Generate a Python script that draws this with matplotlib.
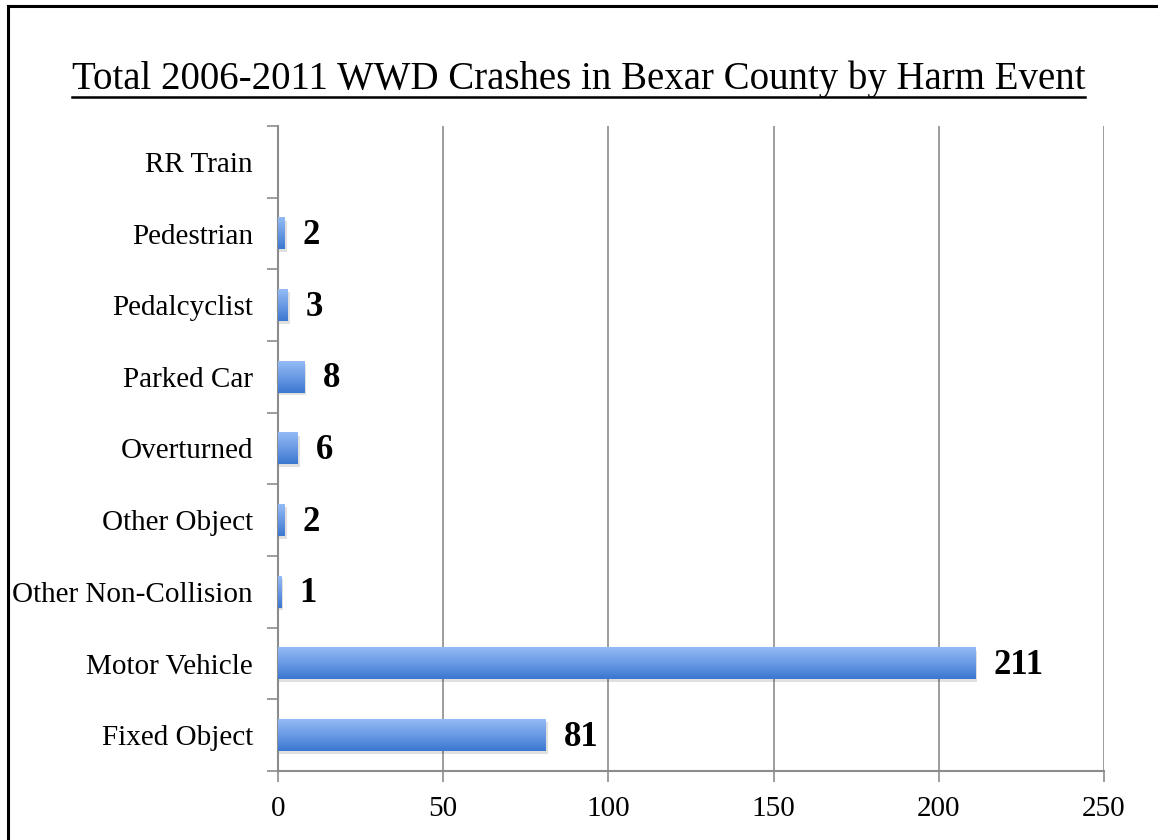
import numpy as np
import matplotlib
matplotlib.use("Agg")
import matplotlib.pyplot as plt
from matplotlib.patches import Rectangle
from matplotlib.lines import Line2D
from matplotlib.colors import LinearSegmentedColormap

categories = ["Fixed Object", "Motor Vehicle", "Other Non-Collision", "Other Object",
              "Overturned", "Parked Car", "Pedalcyclist", "Pedestrian", "RR Train"]
values = [81, 211, 1, 2, 6, 8, 3, 2, 0]
xticks = [0, 50, 100, 150, 200, 250]
title = "Total 2006-2011 WWD Crashes in Bexar County by Harm Event"

W, H = 1158, 840
fig = plt.figure(figsize=(W / 100, H / 100), dpi=100)
serif = ["Liberation Serif", "DejaVu Serif"]

# outer border (continues beyond right and bottom edges)
fig.lines.append(Line2D([8 / W, 8 / W], [0, 1 - 6 / H], transform=fig.transFigure,
                        color="black", linewidth=2.2))
fig.lines.append(Line2D([8 / W, 1], [1 - 6 / H, 1 - 6 / H], transform=fig.transFigure,
                        color="black", linewidth=2.2))

ax = fig.add_axes([278 / W, 1 - 771 / H, (1104 - 278) / W, (771 - 126) / H])

grey = "#8c8c8c"
for s in ["top", "right"]:
    ax.spines[s].set_visible(False)
for s in ["left", "bottom"]:
    ax.spines[s].set_color(grey)
    ax.spines[s].set_linewidth(1.5)

ax.set_xticks(xticks)
ax.set_xticklabels([str(t) for t in xticks], fontfamily=serif, fontsize=21)
ax.tick_params(axis="x", length=8, color=grey, width=1.2, pad=10)
ax.xaxis.grid(True, color=grey, linewidth=1.2)
ax.set_axisbelow(True)

ypos = np.arange(len(categories))
ax.set_yticks(ypos)
ax.set_yticklabels(categories, fontfamily=serif, fontsize=21)
ax.tick_params(axis="y", length=0, pad=18)
ax.set_yticks(np.arange(-0.5, len(categories), 1.0), minor=True)
ax.tick_params(axis="y", which="minor", length=8, color=grey, width=1.2)

# gradient bars
bh = 0.44
grad = np.linspace(0, 1, 64).reshape(-1, 1)
cmap = LinearSegmentedColormap.from_list("b", ["#3b78d0", "#6a9ae4", "#93bbf5"])
for y, v in zip(ypos, values):
    if v <= 0:
        continue
    ax.add_patch(Rectangle((0, y - bh / 2 - 0.04), v + 0.6, bh, facecolor="#000000", alpha=0.12,
                           edgecolor="none", zorder=2))
    ax.imshow(grad, extent=(0, v, y - bh / 2, y + bh / 2), origin="lower", cmap=cmap,
              aspect="auto", zorder=3, interpolation="bilinear")
    ax.text(v + 5.5, y - 0.03, str(v), fontfamily=serif, fontsize=25, fontweight="bold",
            va="center", ha="left", zorder=4)
ax.set_xlim(0, 250)
ax.set_ylim(-0.5, len(categories) - 0.5)

# title with underline
fig.text(0.5, 1 - 89 / H, title, fontfamily=serif, fontsize=28, ha="center", va="baseline")
fig.lines.append(Line2D([72 / W, 1085 / W], [1 - 97 / H, 1 - 97 / H], transform=fig.transFigure,
                        color="black", linewidth=1.8))

fig.savefig("out.png", dpi=100)
